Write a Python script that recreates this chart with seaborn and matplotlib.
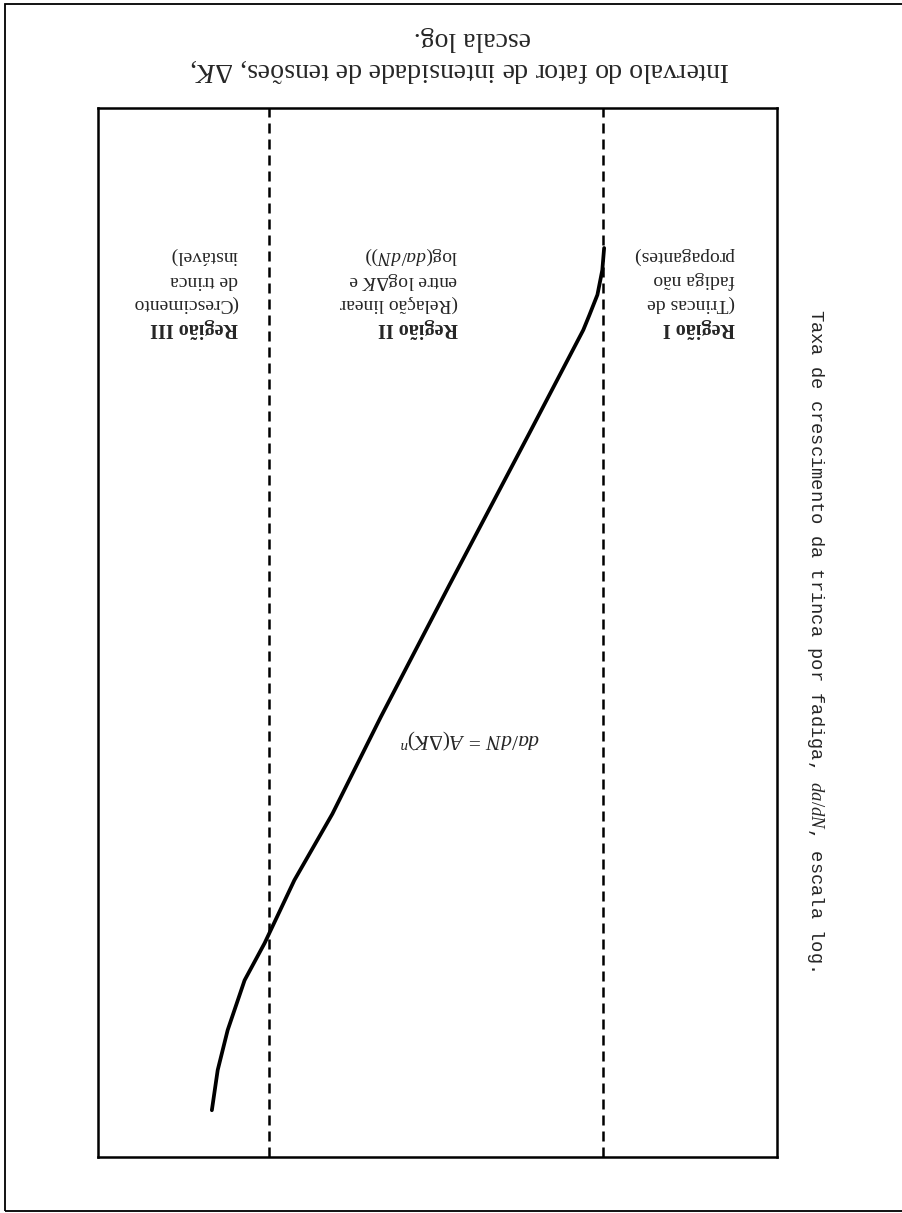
import matplotlib
matplotlib.use("Agg")
import matplotlib.pyplot as plt
from matplotlib.patches import Rectangle
import pandas as pd
import seaborn as sns

# Fatigue crack growth curve (log-log), ΔK vs da/dN
delta_k = [3.23, 3.27, 3.38, 3.57, 3.72, 5.36, 9.23, 14.7, 20.4, 26.4,
           32.3, 37.0, 41.5, 44.4, 46.2]
growth_rate = [6.32e-9, 8.45e-9, 1.17e-8, 1.53e-8, 1.86e-8, 7.23e-8, 5.36e-7,
               3.05e-6, 1.09e-5, 2.61e-5, 5.98e-5, 9.75e-5, 1.88e-4, 3.18e-4,
               5.40e-4]
region_bounds = [3.25, 31.4]
dk_limits = [1, 100]
rate_limits = [1e-9, 1e-3]

region_titles = ["Região I", "Região II", "Região III"]
region_bodies = [
    ["(Trincas de", "fadiga não", "propagantes)"],
    ["(Relação linear", r"entre log$\mathit{\Delta K}$ e", r"log($da/dN$))"],
    ["(Crescimento", "de trinca", "instável)"],
]
formula = r"$da/dN\, =\, A(\mathit{\Delta K})^n$"
x_label_lines = ["Intervalo do fator de intensidade de tensões, $\\mathit{\\Delta K}$,",
                 "escala log."]
y_label = "Taxa de crescimento da trinca por fadiga, $da/dN$, escala log."

sns.set_theme(style="white")
plt.rcParams["font.family"] = ["Liberation Serif", "DejaVu Serif"]
plt.rcParams["mathtext.fontset"] = "custom"
plt.rcParams["mathtext.rm"] = "Liberation Serif"
plt.rcParams["mathtext.it"] = "Liberation Serif:italic"
plt.rcParams["mathtext.bf"] = "Liberation Serif:bold"

fig = plt.figure(figsize=(9.02, 12.13), dpi=100)
fig.patch.set_facecolor("white")
ax = fig.add_axes([98 / 902, 1 - 1157 / 1213, 679 / 902, 1049 / 1213])

df = pd.DataFrame({"dk": delta_k, "rate": growth_rate})
sns.lineplot(data=df, x="dk", y="rate", ax=ax, color="black", lw=2.7,
             sort=True, estimator=None)

for b in region_bounds:
    ax.axvline(b, color="black", lw=1.8, dashes=(4, 2.4))

ax.set_xscale("log")
ax.set_yscale("log")
ax.set_xlim(dk_limits)
ax.set_ylim(rate_limits)
# the sheet is shown turned upside down
ax.invert_xaxis()
ax.invert_yaxis()
ax.set_xticks([])
ax.set_yticks([])
ax.minorticks_off()
ax.set_xlabel("")
ax.set_ylabel("")
for s in ax.spines.values():
    s.set_visible(True)
    s.set_color("black")
    s.set_linewidth(1.8)


def fx(px):
    return (px - 98) / 679


def fy(py):
    return (1157 - py) / 1049


line_y = [328, 304, 280, 256]
right_edges = [735, 458, 238]
for title, body, xr in zip(region_titles, region_bodies, right_edges):
    ax.text(fx(xr), fy(line_y[0]), title, transform=ax.transAxes,
            rotation=180, ha="right", va="center", fontsize=14.5,
            fontweight="bold")
    for line, py in zip(body, line_y[1:]):
        ax.text(fx(xr), fy(py), line, transform=ax.transAxes,
                rotation=180, ha="right", va="center", fontsize=14)

ax.text(fx(470), fy(739), formula, transform=ax.transAxes, rotation=180,
        ha="center", va="center", fontsize=15.5)

# axis titles, upside down with the rest of the sheet
for text, (cx, cy) in zip(x_label_lines, [(460, 70), (472, 38)]):
    fig.text(cx / 902, 1 - cy / 1213, text, rotation=180, ha="center",
             va="center", fontsize=20)
fig.text(815 / 902, 1 - 640 / 1213, y_label, rotation=270, ha="center",
         va="center", fontsize=13.5, family=["Liberation Mono", "DejaVu Sans Mono"])

# outer page frame
fig.add_artist(Rectangle((5 / 902, 2 / 1213), 1.0, 1207 / 1213, fill=False,
                         lw=1.3, edgecolor="black", transform=fig.transFigure))

fig.savefig("out.png", dpi=100, facecolor="white")
